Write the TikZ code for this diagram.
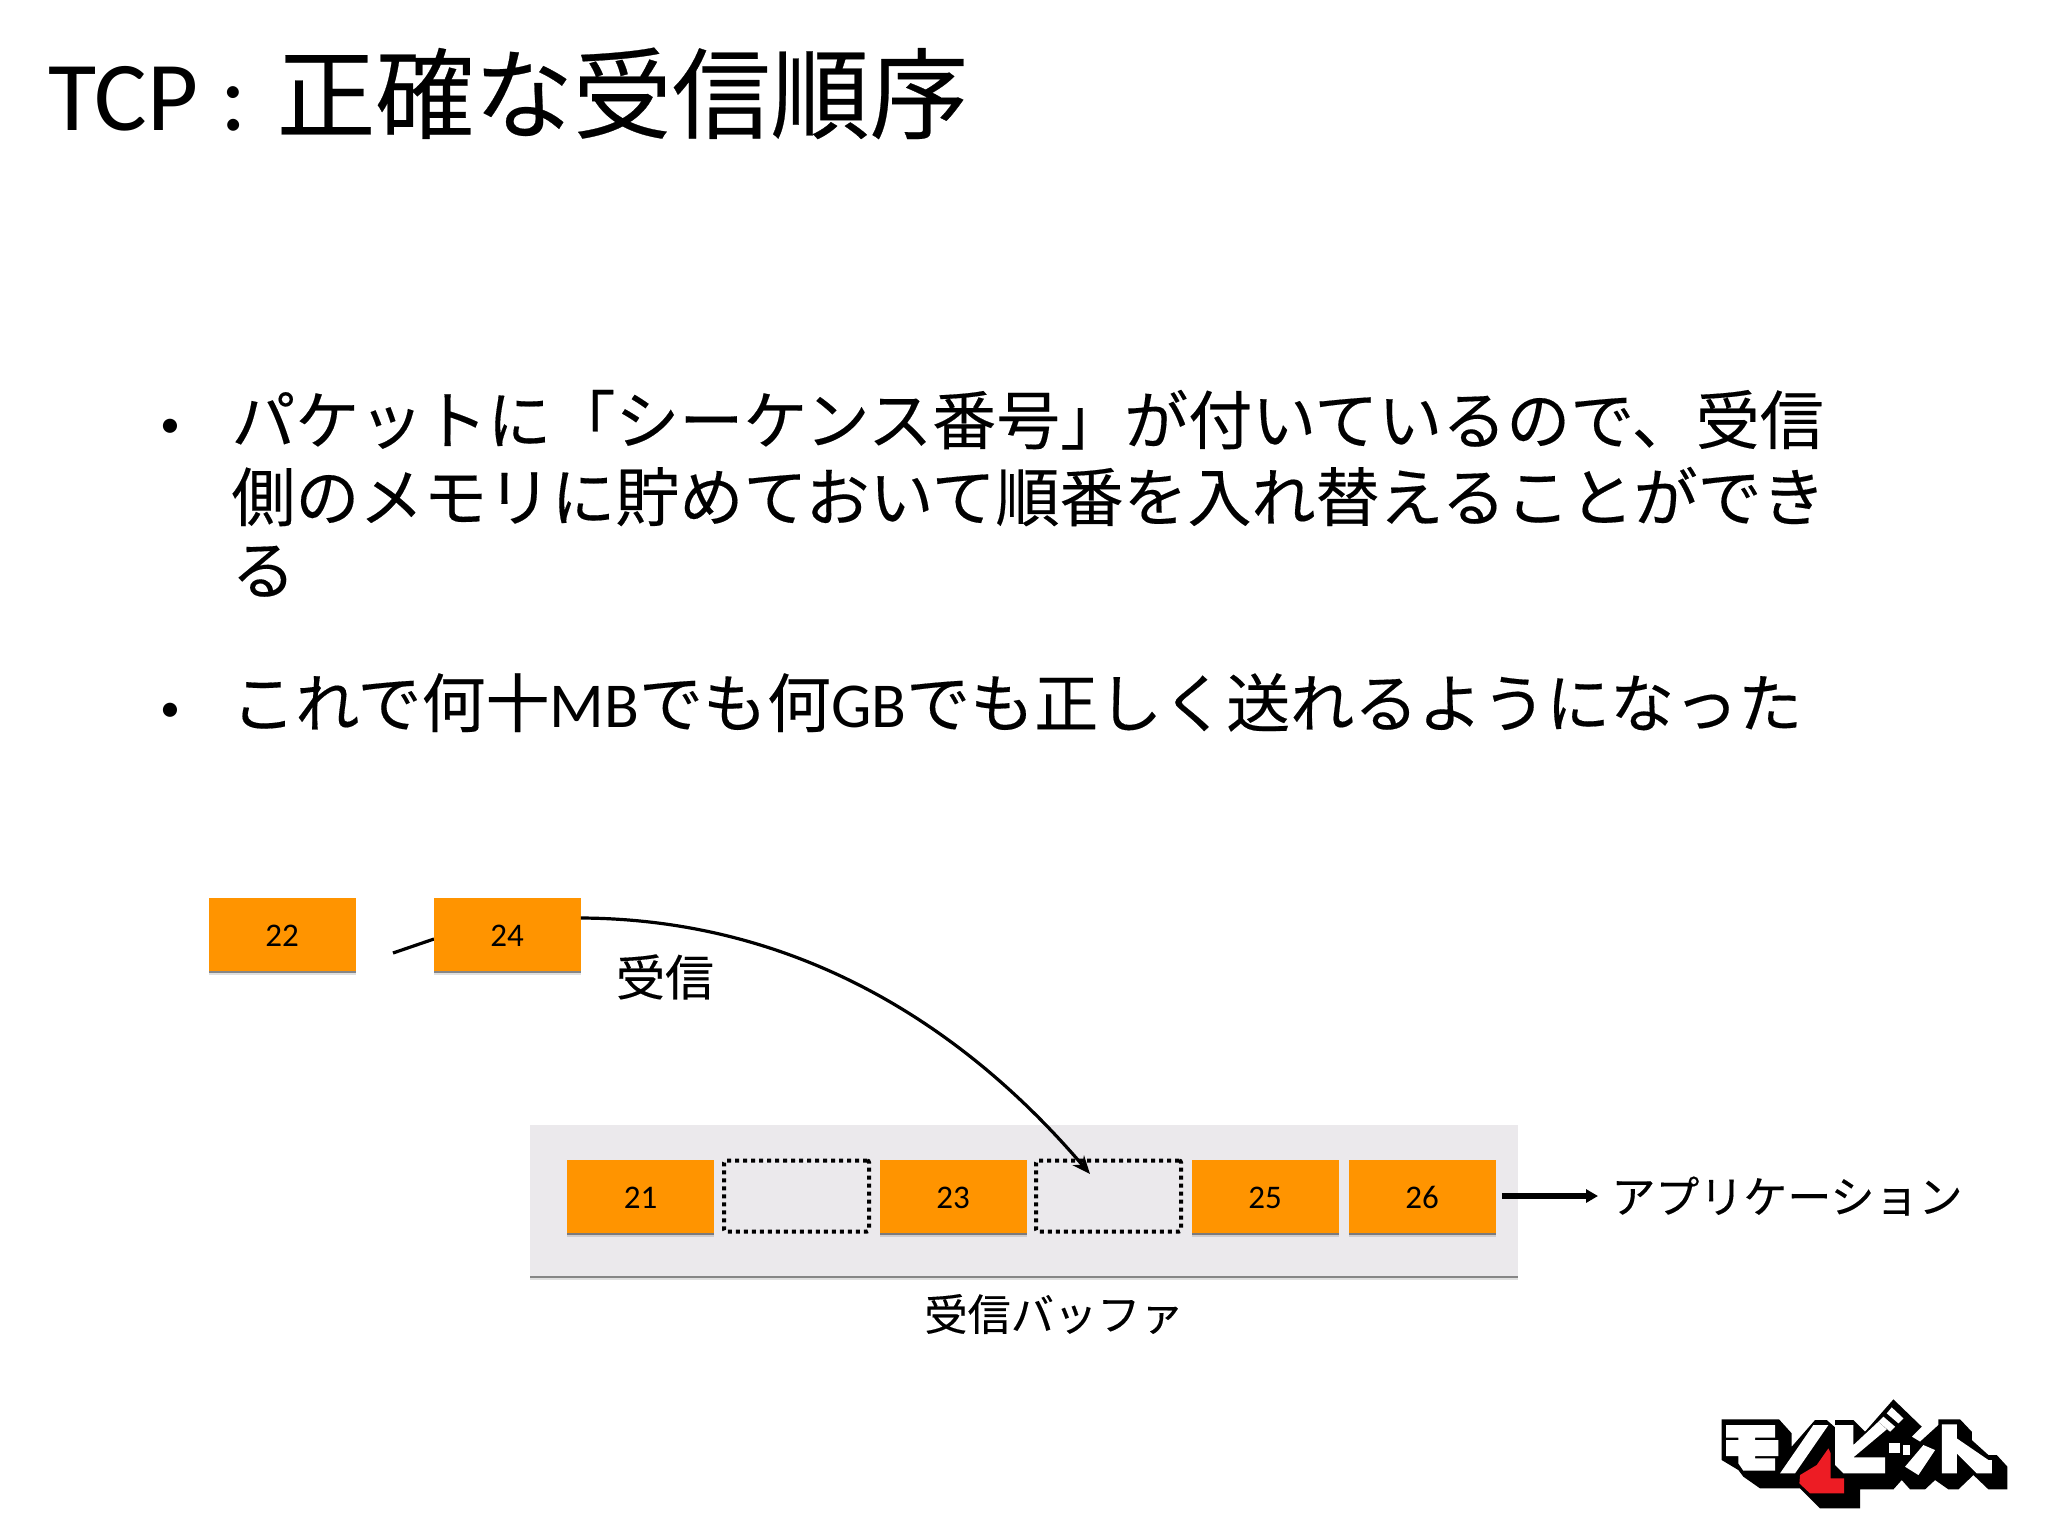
\documentclass[tikz,border=0pt]{standalone}
\usepackage{fontspec}
\setmainfont{Carlito}
\newfontfamily\jp[FakeBold=0.25]{Noto Sans CJK JP}
\usetikzlibrary{shadows,arrows.meta}
\definecolor{pkt}{HTML}{FF9400}
\definecolor{bufbg}{HTML}{EBE9EC}
\definecolor{logored}{HTML}{ED1C24}
\newcommand\pktnum[1]{\raisebox{-6.3pt}[0pt][0pt]{#1}}
\tikzset{
  x=0.5pt,y=-0.5pt,
  softshadow/.style={
    general shadow={shadow xshift=0pt,shadow yshift=-2.2pt,opacity=.12,fill=black},
    general shadow={shadow xshift=0pt,shadow yshift=-1.3pt,opacity=.4,fill=black}},
  packet/.style={fill=pkt,minimum width=73.5pt,minimum height=36.5pt,inner sep=0pt,softshadow,font=\fontsize{16.5}{18}\selectfont},
  slot/.style={draw=black,line width=2pt,dash pattern=on 2pt off 2pt,minimum width=72.5pt,minimum height=35.5pt,inner sep=0pt,rounded corners=1pt},
  titletext/.style={anchor=base west,inner sep=0pt,font=\fontsize{49.4}{52}\selectfont},
  bodytext/.style={anchor=base west,inner sep=0pt,font=\fontsize{32}{36}\selectfont},
  bullet/.style={inner sep=0pt,font=\fontsize{20}{22}\selectfont},
  wire/.style={draw=black,line width=1.6pt},
  logoblack/.style={fill=black,draw=none},
  logowhite/.style={fill=white,draw=none},
}
\begin{document}
\begin{tikzpicture}
\useasboundingbox[fill=white] (0,0) rectangle (2048,1536);
% title
\node[titletext] (title) at (48,131) {TCP :\hspace{0.3em}{\jp 正確な受信順序}};
% bullets
\node[bullet] (b1) at (170,428) {•};
\node[bodytext] (l1) at (231,444) {\jp パケットに「シーケンス番号」が付いているので、受信};
\node[bodytext] (l2) at (231,521) {\jp 側のメモリに貯めておいて順番を入れ替えることができ};
\node[bodytext] (l3) at (231,594) {\jp る};
\node[bullet] (b2) at (170,712) {•};
\node[bodytext] (l4) at (231,727) {{\jp これで何十}MB{\jp でも何}GB{\jp でも正しく送れるようになった}};
% incoming packets
\coordinate (stub) at (393,953);
\node[packet] (p22) at (282,934) {\pktnum{22}};
\draw[wire] (stub) -- (434,939);
\node[packet] (p24) at (507,934) {\pktnum{24}};
\node[inner sep=0pt,font=\jp\fontsize{24.5}{26}\selectfont] (recv) at (665,977) {受信};
% buffer
\node[fill=bufbg,minimum width=494pt,minimum height=75.5pt,inner sep=0pt,softshadow] (buf) at (1024,1200) {};
\node[packet] (p21) at (640.5,1196) {\pktnum{21}};
\node[slot] (s22) at (796.5,1196) {};
\node[packet] (p23) at (953,1196) {\pktnum{23}};
\node[slot] (s24) at (1108.5,1196) {};
\node[packet] (p25) at (1265,1196) {\pktnum{25}};
\node[packet] (p26) at (1422,1196) {\pktnum{26}};
\node[inner sep=0pt,font=\jp\fontsize{21.6}{24}\selectfont] (buflabel) at (1054,1314) {受信バッファ};
\node[anchor=west,inner sep=0pt,font=\jp\fontsize{22}{24}\selectfont] (app) at (1611,1196) {アプリケーション};
% arrows
\coordinate (hit) at (1090,1174);
\draw[wire,-{Stealth[length=9pt,width=7.5pt]}] ([yshift=8pt]p24.east) .. controls (780,919) and (950,1010) .. (hit);
\draw[wire,line width=2.6pt,shorten <=3pt,shorten >=6.5pt,-{Stealth[length=6pt,width=6.5pt,inset=0pt]}] (p26.east) -- (app.west);
% logo
\begin{scope}[shift={(1680,1370)},x=0.1667pt,y=-0.1667pt]
\fill[logoblack] (125,148)--(297,148)--(335,190)--(335,230)--(405,150)--(440,150)--(465,172)--(465,150)--(520,150)--(555,185)--(640,88)--(725,170)--(695,200)--(720,215)--(775,165)--(775,148)--(840,148)--(875,185)--(875,210)--(925,255)--(950,255)--(982,290)--(982,358)--(925,358)--(880,315)--(835,358)--(805,358)--(765,330)--(735,358)--(690,358)--(665,330)--(640,358)--(540,358)--(540,415)--(420,415)--(360,355)--(240,355)--(190,320)--(175,300)--(125,270)--cycle;
\fill[logowhite] (138,165)--(285,165)--(285,203)--(225,203)--(225,210)--(295,210)--(295,258)--(225,258)--(225,265)--(285,265)--(285,302)--(190,302)--(175,280)--(175,258)--(138,258)--(138,210)--(175,210)--(175,203)--(138,203)--cycle;
\fill[logowhite] (400,165)--(445,165)--(345,310)--(300,310)--cycle;
\fill[logored] (445,235)--(452,250)--(452,325)--(492,325)--(492,370)--(390,370)--(358,340)--(360,315)--(410,285)--cycle;
\fill[logowhite] (465,165)--(520,165)--(520,225)--(595,155)--(620,178)--(520,262)--(615,262)--(615,310)--(490,310)--(465,285)--cycle;
\fill[logowhite] (595,155)--(610,140)--(645,170)--(630,185)--cycle;
\fill[logowhite] (620,130)--(635,112)--(670,145)--(655,160)--cycle;
\fill[logowhite] (628,220)--(660,220)--(660,250)--(628,250)--cycle;
\fill[logowhite] (668,225)--(690,225)--(690,255)--(668,255)--cycle;
\fill[logowhite] (730,225)--(765,240)--(715,315)--(675,290)--cycle;
\fill[logowhite] (785,163)--(830,163)--(830,205)--(925,270)--(935,270)--(935,310)--(890,310)--(830,250)--(830,310)--(785,310)--cycle;
\end{scope}
\end{tikzpicture}
\end{document}
